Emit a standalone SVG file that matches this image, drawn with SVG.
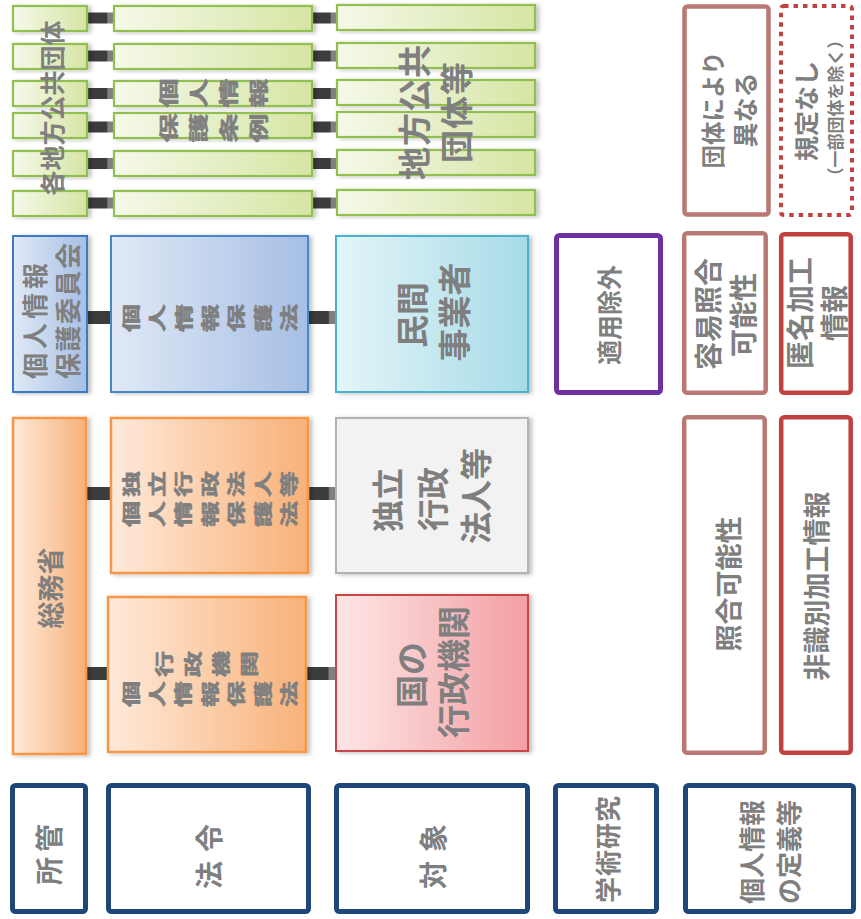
<svg xmlns="http://www.w3.org/2000/svg" width="861" height="919" viewBox="0 0 861 919">
<style>
text{font-family:"Noto Sans CJK JP","Noto Sans CJK SC",sans-serif;font-weight:700;fill:#7f7f7f;}
.r{text-anchor:middle;dominant-baseline:central;}
.rs{text-anchor:start;dominant-baseline:central;}
.sq{stroke:#7f7f7f;stroke-width:0.9;stroke-linejoin:round;}
.g{fill:url(#gGreen);stroke:#92bf4f;stroke-width:2.2;filter:url(#sh);}
.navy{fill:#fff;stroke:#1f4679;stroke-width:5;}
.rose{fill:#fff;stroke:#b97874;stroke-width:4.5;}
.red{fill:#fff;stroke:#c0413f;stroke-width:4.5;}
.conn{fill:url(#gConn);}
</style>
<defs>
<linearGradient id="gGreen" x1="0" y1="0" x2="1" y2="0"><stop offset="0" stop-color="#f5f9ea"/><stop offset="1" stop-color="#d6e5a4"/></linearGradient>
<linearGradient id="gBlue" x1="0" y1="0" x2="1" y2="0"><stop offset="0" stop-color="#e0e9f6"/><stop offset="1" stop-color="#a6bfe4"/></linearGradient>
<linearGradient id="gCyan" x1="0" y1="0" x2="1" y2="0"><stop offset="0" stop-color="#e4f5f9"/><stop offset="1" stop-color="#a7dbe7"/></linearGradient>
<linearGradient id="gOrange" x1="0" y1="0" x2="1" y2="0"><stop offset="0" stop-color="#feeadb"/><stop offset="1" stop-color="#f8b178"/></linearGradient>
<linearGradient id="gPink" x1="0" y1="0" x2="1" y2="0"><stop offset="0" stop-color="#fde6e6"/><stop offset="1" stop-color="#f39fa3"/></linearGradient>
<linearGradient id="gConn" x1="0" y1="0" x2="1" y2="0"><stop offset="0" stop-color="#3c3c3c"/><stop offset="0.72" stop-color="#3c3c3c"/><stop offset="0.78" stop-color="#808080"/><stop offset="1" stop-color="#808080"/></linearGradient>
<filter id="sh" x="-10%" y="-10%" width="130%" height="130%"><feDropShadow dx="3" dy="1" stdDeviation="2" flood-color="#000" flood-opacity="0.25"/></filter>
</defs>
<rect width="861" height="919" fill="#fff"/>

<g id="connectors">
<rect class="conn" x="87" y="12.5" width="27" height="11"/>
<rect class="conn" x="312" y="12.5" width="25" height="11"/>
<rect class="conn" x="87" y="50.5" width="27" height="11"/>
<rect class="conn" x="312" y="50.5" width="25" height="11"/>
<rect class="conn" x="87" y="88" width="27" height="11"/>
<rect class="conn" x="312" y="88" width="25" height="11"/>
<rect class="conn" x="87" y="121.5" width="27" height="11"/>
<rect class="conn" x="312" y="121.5" width="25" height="11"/>
<rect class="conn" x="87" y="158" width="27" height="11"/>
<rect class="conn" x="312" y="158" width="25" height="11"/>
<rect class="conn" x="87" y="197.5" width="27" height="11"/>
<rect class="conn" x="312" y="197.5" width="25" height="11"/>
<rect x="87" y="311" width="24" height="13" fill="#3c3c3c"/>
<rect class="conn" x="308" y="311" width="28" height="13"/>
<rect x="86" y="487" width="25" height="13" fill="#3c3c3c"/>
<rect class="conn" x="308" y="487" width="28" height="13"/>
<rect x="86" y="667" width="22" height="13" fill="#3c3c3c"/>
<rect class="conn" x="306" y="667" width="30" height="13"/>
</g>

<g id="local-govs">
<rect class="g" x="13" y="6" width="74" height="25"/>
<rect class="g" x="13" y="44" width="74" height="25"/>
<rect class="g" x="13" y="81" width="74" height="25"/>
<rect class="g" x="13" y="113" width="74" height="25"/>
<rect class="g" x="13" y="151" width="74" height="25"/>
<rect class="g" x="13" y="191" width="74" height="25"/>
<text class="r" font-size="25" transform="translate(51,108) rotate(-90)">各地方公共団体</text>
</g>
<g id="local-ordinance">
<rect class="g" x="114" y="6" width="198" height="25"/>
<rect class="g" x="114" y="44" width="198" height="25"/>
<rect class="g" x="114" y="81" width="198" height="25"/>
<rect class="g" x="114" y="113" width="198" height="25"/>
<rect class="g" x="114" y="151" width="198" height="25"/>
<rect class="g" x="114" y="191" width="198" height="25"/>
<text class="sq" font-size="29" rotate="-90" x="-56.5 -11.5 33.5 78.5" y="14.5" transform="translate(213.5,93) scale(0.67,1)">個人情報</text>
<text class="sq" font-size="29" rotate="-90" x="-56.5 -11.5 33.5 78.5" y="14.5" transform="translate(213.5,128) scale(0.67,1)">保護条例</text>
</g>
<g id="local-targets">
<rect class="g" x="337" y="5" width="198" height="25"/>
<rect class="g" x="337" y="43" width="198" height="25"/>
<rect class="g" x="337" y="80" width="198" height="25"/>
<rect class="g" x="337" y="112" width="198" height="25"/>
<rect class="g" x="337" y="150" width="198" height="25"/>
<rect class="g" x="337" y="190" width="198" height="25"/>
<text class="r" font-size="33" letter-spacing="1" transform="translate(413,112) rotate(-90)">地方公共</text>
<text class="r" font-size="33" letter-spacing="1" transform="translate(455,112) rotate(-90)">団体等</text>
</g>
<g id="differs">
<rect class="rose" x="684.5" y="6.5" width="84" height="208" rx="3"/>
<text class="r" font-size="23.5" transform="translate(712,110) rotate(-90)">団体により</text>
<text class="r" font-size="25" transform="translate(744,110) rotate(-90)">異なる</text>
</g>
<g id="no-rule">
<rect x="781" y="6" width="71" height="209" rx="3" fill="#fff" stroke="#c0413f" stroke-width="4" stroke-dasharray="4.5 5"/>
<text class="r" font-size="25" transform="translate(805,111) rotate(-90)">規定なし</text>
<text class="r" font-size="17" transform="translate(834,108) rotate(-90)">（一部団体を除く）</text>
</g>

<g id="ppc">
<rect x="13" y="236" width="74" height="156" fill="url(#gBlue)" stroke="#3c7ac4" stroke-width="2" filter="url(#sh)"/>
<text class="rs" font-size="26" letter-spacing="4" transform="translate(33,379) rotate(-90)">個人情報</text>
<text class="rs" font-size="26" letter-spacing="1.5" transform="translate(66,379) rotate(-90)">保護委員会</text>
</g>
<g id="appi">
<rect x="111" y="236" width="197" height="156" fill="url(#gBlue)" stroke="#4a86c8" stroke-width="2" filter="url(#sh)"/>
<text class="sq" font-size="28" rotate="-90" x="-111.2 -70.6 -30 10.6 51.3 91.9 132.5" y="14" transform="translate(210,318) scale(0.65,1)">個人情報保護法</text>
</g>
<g id="private">
<rect x="336" y="236" width="192" height="156" fill="url(#gCyan)" stroke="#4bb2cb" stroke-width="2" filter="url(#sh)"/>
<text class="r" font-size="33" transform="translate(411,315) rotate(-90)">民間</text>
<text class="r" font-size="33" transform="translate(453,312) rotate(-90)">事業者</text>
</g>
<g id="exempt">
<rect x="556.5" y="235.5" width="104" height="157" rx="3" fill="#fff" stroke="#7030a0" stroke-width="5"/>
<text class="r" font-size="25" transform="translate(608,315) rotate(-90)">適用除外</text>
</g>
<g id="easy-match">
<rect class="rose" x="684.2" y="233.2" width="81.5" height="159.5" rx="3"/>
<text class="r" font-size="28" transform="translate(707,314) rotate(-90)">容易照合</text>
<text class="r" font-size="28" transform="translate(742,315) rotate(-90)">可能性</text>
</g>
<g id="anon">
<rect class="red" x="781.2" y="234.2" width="69.5" height="158.5" rx="3"/>
<text class="r" font-size="28" transform="translate(799,313) rotate(-90)">匿名加工</text>
<text class="r" font-size="28" transform="translate(833,313) rotate(-90)">情報</text>
</g>

<g id="mic">
<rect x="13" y="418" width="73" height="336" fill="url(#gOrange)" stroke="#f79646" stroke-width="2.5" filter="url(#sh)"/>
<text class="r" font-size="27" transform="translate(49,588) rotate(-90)">総務省</text>
</g>
<g id="iaa-law">
<rect x="111" y="418" width="197" height="155" fill="url(#gOrange)" stroke="#f79646" stroke-width="2.5" filter="url(#sh)"/>
<text class="sq" font-size="26" rotate="-90" x="-104.8 -66.6 -28.4 9.9 48.1 86.4 124.6" y="13" transform="translate(210,484) scale(0.69,1)">独立行政法人等</text>
<text class="sq" font-size="26" rotate="-90" x="-104.8 -66.6 -28.4 9.9 48.1 86.4 124.6" y="13" transform="translate(210,514) scale(0.69,1)">個人情報保護法</text>
</g>
<g id="gov-law">
<rect x="108" y="597" width="198" height="155" fill="url(#gOrange)" stroke="#f79646" stroke-width="2.5" filter="url(#sh)"/>
<text class="sq" font-size="26" rotate="-90" x="-51.5 -10.6 30.3 71.2" y="13" transform="translate(207,664) scale(0.69,1)">行政機関</text>
<text class="sq" font-size="26" rotate="-90" x="-104.8 -66.6 -28.4 9.9 48.1 86.4 124.6" y="13" transform="translate(210,694) scale(0.69,1)">個人情報保護法</text>
</g>
<g id="iaa">
<rect x="336" y="418" width="192" height="155" fill="#f2f2f2" stroke="#b3b3b3" stroke-width="2" filter="url(#sh)"/>
<text class="r" font-size="32" transform="translate(386,500) rotate(-90)">独立</text>
<text class="r" font-size="32" transform="translate(431,499) rotate(-90)">行政</text>
<text class="r" font-size="32" transform="translate(474,496) rotate(-90)">法人等</text>
</g>
<g id="gov">
<rect x="336" y="595" width="192" height="156" fill="url(#gPink)" stroke="#c9474a" stroke-width="2" filter="url(#sh)"/>
<text class="r" font-size="33" transform="translate(410,675) rotate(-90)">国の</text>
<text class="r" font-size="33" transform="translate(452,672) rotate(-90)">行政機関</text>
</g>
<g id="match">
<rect class="rose" x="684.2" y="417.2" width="80.5" height="335.5" rx="3"/>
<text class="r" font-size="27" transform="translate(727,584) rotate(-90)">照合可能性</text>
</g>
<g id="nonid">
<rect class="red" x="781.2" y="417.2" width="69.5" height="335.5" rx="3"/>
<text class="r" font-size="27" transform="translate(815,586) rotate(-90)">非識別加工情報</text>
</g>

<g id="h-jurisdiction">
<rect class="navy" x="12.5" y="785.5" width="73" height="126" rx="3"/>
<text class="r" font-size="28" letter-spacing="5" transform="translate(48,852) rotate(-90)">所管</text>
</g>
<g id="h-law">
<rect class="navy" x="108.5" y="785.5" width="200" height="126" rx="3"/>
<text class="r" font-size="28" letter-spacing="9" transform="translate(208,852) rotate(-90)">法令</text>
</g>
<g id="h-target">
<rect class="navy" x="336.5" y="785.5" width="191" height="126" rx="3"/>
<text class="r" font-size="28" letter-spacing="9" transform="translate(432,852) rotate(-90)">対象</text>
</g>
<g id="h-academic">
<rect class="navy" x="555.5" y="785.5" width="101" height="126" rx="3"/>
<text class="r" font-size="26" letter-spacing="1" transform="translate(606,849) rotate(-90)">学術研究</text>
</g>
<g id="h-definition">
<rect class="navy" x="685.5" y="785.5" width="168" height="126" rx="3"/>
<text class="r" font-size="26" transform="translate(750,852) rotate(-90)">個人情報</text>
<text class="r" font-size="26" transform="translate(787,852) rotate(-90)">の定義等</text>
</g>
</svg>
